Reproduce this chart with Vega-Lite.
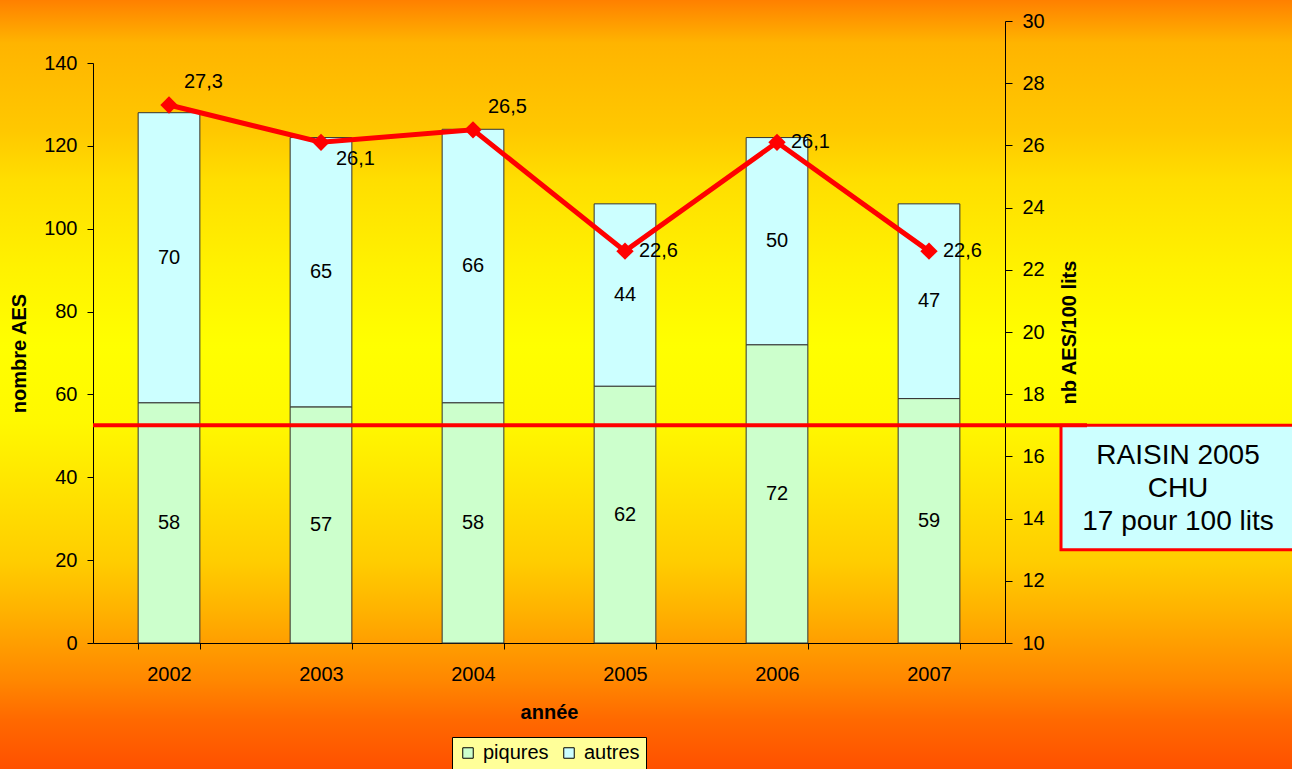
{
  "$schema": "https://vega.github.io/schema/vega-lite/v6.json",
  "width": 912,
  "height": 622,
  "autosize": {"type": "none"},
  "padding": {"left": 93, "top": 21, "right": 287, "bottom": 126},
  "background": "#FFC000",
  "config": {
    "font": "Liberation Sans",
    "locale": {"number": {"decimal": ",", "thousands": "\u00a0", "grouping": [3], "currency": ["", "\u00a0€"]}},
    "view": {
      "fill": null,
      "strokeWidth": 1600,
      "stroke": {
        "gradient": "linear", "x1": 0, "y1": -0.0338, "x2": 0, "y2": 1.2026,
        "stops": [
          {"offset": 0, "color": "#FF8000"},
          {"offset": 0.056, "color": "#FFB400"},
          {"offset": 0.17, "color": "#FFC800"},
          {"offset": 0.234, "color": "#FFDE00"},
          {"offset": 0.35, "color": "#FFF200"},
          {"offset": 0.45, "color": "#FFFF00"},
          {"offset": 0.55, "color": "#FFF800"},
          {"offset": 0.73, "color": "#FFCD00"},
          {"offset": 0.79, "color": "#FFB400"},
          {"offset": 0.885, "color": "#FF8700"},
          {"offset": 0.936, "color": "#FF6900"},
          {"offset": 1, "color": "#FF5000"}
        ]
      }
    },
    "axis": {
      "domainColor": "#000000", "tickColor": "#000000", "labelColor": "#000000", "titleColor": "#000000",
      "labelFont": "Liberation Sans", "titleFont": "Liberation Sans",
      "labelFontSize": 20, "titleFontSize": 20, "titleFontWeight": "bold", "grid": false,
      "domainWidth": 1, "tickWidth": 1, "ticks": true
    },
    "legend": {
      "layout": {"bottom": {"anchor": "middle"}},
      "orient": "bottom", "direction": "horizontal",
      "fillColor": "#FFFF99", "strokeColor": "#000000", "padding": 6,
      "symbolType": "square", "symbolSize": 110, "symbolStrokeColor": "#000000", "symbolStrokeWidth": 1,
      "labelFontSize": 20, "labelFont": "Liberation Sans", "labelColor": "#000000",
      "columnPadding": 10, "labelOffset": 5, "offset": 15
    },
    "text": {"font": "Liberation Sans"}
  },
  "datasets": {
    "aes": [
      {"annee": 2002, "type": "piqures", "n": 58}, {"annee": 2002, "type": "autres", "n": 70},
      {"annee": 2003, "type": "piqures", "n": 57}, {"annee": 2003, "type": "autres", "n": 65},
      {"annee": 2004, "type": "piqures", "n": 58}, {"annee": 2004, "type": "autres", "n": 66},
      {"annee": 2005, "type": "piqures", "n": 62}, {"annee": 2005, "type": "autres", "n": 44},
      {"annee": 2006, "type": "piqures", "n": 72}, {"annee": 2006, "type": "autres", "n": 50},
      {"annee": 2007, "type": "piqures", "n": 59}, {"annee": 2007, "type": "autres", "n": 47}
    ],
    "taux": [
      {"annee": 2002, "taux": 27.3}, {"annee": 2003, "taux": 26.1}, {"annee": 2004, "taux": 26.5},
      {"annee": 2005, "taux": 22.6}, {"annee": 2006, "taux": 26.1}, {"annee": 2007, "taux": 22.6}
    ],
    "raisin": [{"ref": 17, "label": "RAISIN 2005\nCHU\n17 pour 100 lits"}]
  },
  "layer": [
    {
      "data": {"name": "aes"},
      "layer": [
        {
          "mark": {"type": "bar", "stroke": "#333333", "strokeWidth": 1},
          "encoding": {
            "x": {
              "field": "annee", "type": "ordinal", "title": "année",
              "scale": {"type": "band", "paddingInner": 0.594, "paddingOuter": 0.297},
              "axis": {"tickBand": "extent", "tickSize": 6, "labelPadding": 15, "titlePadding": 18, "labelAngle": 0}
            },
            "y": {
              "field": "n", "type": "quantitative", "stack": "zero", "title": "nombre AES",
              "scale": {"domain": [0, 140], "range": [622, 42], "nice": false},
              "axis": {"values": [0, 20, 40, 60, 80, 100, 120, 140], "tickSize": 6, "labelPadding": 10, "titlePadding": 14}
            },
            "color": {
              "field": "type", "type": "nominal",
              "scale": {"domain": ["piqures", "autres"], "range": ["#CCFFCC", "#CCFFFF"]},
              "legend": {"title": null}
            },
            "order": {"field": "type", "type": "nominal", "sort": "descending"}
          }
        },
        {
          "mark": {"type": "text", "fontSize": 20, "color": "#000000", "baseline": "middle"},
          "encoding": {
            "x": {"field": "annee", "type": "ordinal", "title": "année"},
            "y": {"field": "n", "type": "quantitative", "stack": "zero", "bandPosition": 0.5, "title": "nombre AES"},
            "detail": {"field": "type", "type": "nominal"},
            "order": {"field": "type", "type": "nominal", "sort": "descending"},
            "text": {"field": "n", "type": "quantitative"}
          }
        }
      ]
    },
    {
      "layer": [
        {
          "data": {"name": "raisin"},
          "mark": {"type": "rect", "fill": "#CCFFFF", "stroke": "#FF0000", "strokeWidth": 3, "x": {"expr": "width + 56"}, "x2": {"expr": "width + 320"}},
          "encoding": {
            "y": {
              "datum": 17, "type": "quantitative", "title": "nb AES/100 lits",
              "scale": {"domain": [10, 30], "nice": false, "zero": false},
              "axis": {"orient": "right", "values": [10, 12, 14, 16, 18, 20, 22, 24, 26, 28, 30], "tickSize": 7, "labelPadding": 10, "titleAngle": 270, "titlePadding": 35}
            },
            "y2": {"datum": 13}
          }
        },
        {
          "data": {"name": "raisin"},
          "mark": {"type": "rule", "color": "#FF0000", "strokeWidth": 4, "x": 0, "x2": {"expr": "width + 82"}},
          "encoding": {
            "y": {"field": "ref", "type": "quantitative", "title": "nb AES/100 lits"}
          }
        },
        {
          "data": {"name": "raisin"},
          "mark": {"type": "text", "fontSize": 28, "align": "center", "baseline": "middle", "lineBreak": "\n", "lineHeight": 33, "dy": -32, "color": "#000000", "x": {"expr": "width + 173"}},
          "encoding": {
            "y": {"datum": 15, "type": "quantitative", "title": "nb AES/100 lits"},
            "text": {"field": "label", "type": "nominal"}
          }
        },
        {
          "data": {"name": "taux"},
          "mark": {"type": "line", "color": "#FF0000", "strokeWidth": 5},
          "encoding": {
            "x": {"field": "annee", "type": "ordinal", "title": "année"},
            "y": {"field": "taux", "type": "quantitative", "title": "nb AES/100 lits"}
          }
        },
        {
          "data": {"name": "taux"},
          "mark": {"type": "point", "shape": "diamond", "filled": true, "color": "#FF0000", "size": 300, "opacity": 1},
          "encoding": {
            "x": {"field": "annee", "type": "ordinal", "title": "année"},
            "y": {"field": "taux", "type": "quantitative", "title": "nb AES/100 lits"}
          }
        },
        {
          "data": {"name": "taux"},
          "transform": [{"filter": {"field": "annee", "oneOf": [2002, 2004]}}],
          "mark": {"type": "text", "fontSize": 20, "align": "left", "baseline": "middle", "dx": 15, "dy": -23, "color": "#000000"},
          "encoding": {
            "x": {"field": "annee", "type": "ordinal", "title": "année"},
            "y": {"field": "taux", "type": "quantitative", "title": "nb AES/100 lits"},
            "text": {"field": "taux", "type": "quantitative", "format": ".1f"}
          }
        },
        {
          "data": {"name": "taux"},
          "transform": [{"filter": {"field": "annee", "oneOf": [2003]}}],
          "mark": {"type": "text", "fontSize": 20, "align": "left", "baseline": "middle", "dx": 15, "dy": 17, "color": "#000000"},
          "encoding": {
            "x": {"field": "annee", "type": "ordinal", "title": "année"},
            "y": {"field": "taux", "type": "quantitative", "title": "nb AES/100 lits"},
            "text": {"field": "taux", "type": "quantitative", "format": ".1f"}
          }
        },
        {
          "data": {"name": "taux"},
          "transform": [{"filter": {"field": "annee", "oneOf": [2005, 2006, 2007]}}],
          "mark": {"type": "text", "fontSize": 20, "align": "left", "baseline": "middle", "dx": 14, "dy": 0, "color": "#000000"},
          "encoding": {
            "x": {"field": "annee", "type": "ordinal", "title": "année"},
            "y": {"field": "taux", "type": "quantitative", "title": "nb AES/100 lits"},
            "text": {"field": "taux", "type": "quantitative", "format": ".1f"}
          }
        }
      ]
    }
  ],
  "resolve": {"scale": {"y": "independent"}}
}
